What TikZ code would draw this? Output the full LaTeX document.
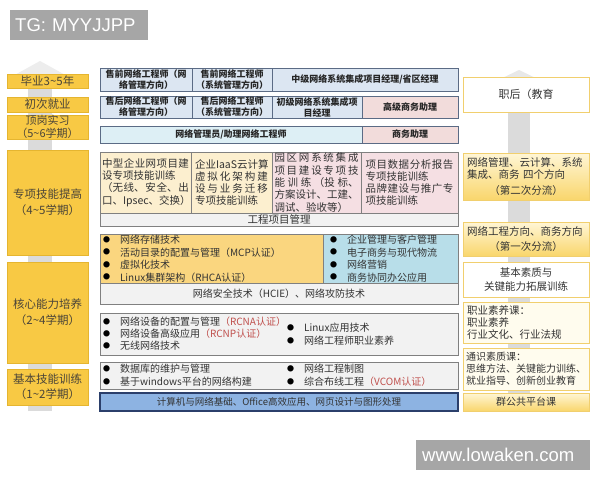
\documentclass[tikz,border=0pt]{standalone}
\usepackage{fontspec}
\setmainfont{Noto Sans CJK SC}
\newfontfamily\wmfont{Liberation Sans}
\usetikzlibrary{positioning,shadows,arrows.meta}
\XeTeXlinebreaklocale "zh"
\XeTeXlinebreakskip=0pt plus 1pt
\XeTeXlinebreakpenalty=10000
\setlength{\parindent}{0pt}

\definecolor{stageyellow}{HTML}{F8C944}
\definecolor{stageedge}{HTML}{E5B530}
\definecolor{stagetext}{HTML}{4A4438}
\definecolor{jobblue}{HTML}{DCE6F2}
\definecolor{jobcyan}{HTML}{DDEFF5}
\definecolor{jobpink}{HTML}{F2DCDB}
\definecolor{jobline}{HTML}{5B6B85}
\definecolor{drillcream}{HTML}{FCEFCF}
\definecolor{drillpink}{HTML}{F5DFE3}
\definecolor{coreyellow}{HTML}{FAD67F}
\definecolor{coreblue}{HTML}{B8DEE9}
\definecolor{paleground}{HTML}{F2F2F2}
\definecolor{baseblue}{HTML}{8DB3E2}
\definecolor{navyline}{HTML}{2B3F6B}
\definecolor{certred}{HTML}{C0504D}
\definecolor{trackedge}{HTML}{F1CF6E}
\definecolor{trackpale}{HTML}{FFF6D6}
\definecolor{trackgold}{HTML}{F9D66C}
\definecolor{trackcream}{HTML}{FFFCEE}
\definecolor{wmgray}{HTML}{A6A6A6}

\newcommand{\blt}{\makebox[17pt][l]{\raisebox{1.1pt}{\color{black}\fontsize{7}{7}\selectfont ●}}}

\tikzset{stage/.style={fill=stageyellow, draw=stageedge, line width=0.4pt, minimum width=81pt, inner sep=0pt, outer sep=0pt, align=center, anchor=north west, text=stagetext, font=\fontsize{11.5}{16}\selectfont, drop shadow={opacity=0.3, shadow xshift=1pt, shadow yshift=-1.2pt}},}
\tikzset{job/.style={draw=jobline, line width=0.5pt, fill=jobblue, inner sep=0pt, outer sep=0pt, align=center, text=black!85, font=\fontsize{9}{11}\selectfont\bfseries},}
\tikzset{drill/.style={draw=gray, line width=0.5pt, fill=drillcream, inner ysep=0pt, outer sep=0pt, minimum height=61pt, align=justify, text=black!80, font=\fontsize{10.5}{12.3}\selectfont},}
\tikzset{course/.style={draw=gray, line width=0.6pt, fill=paleground, inner xsep=3pt, inner ysep=0pt, outer sep=0pt, align=left, text=black!80, font=\fontsize{10}{12}\selectfont},}
\tikzset{coursetext/.style={inner sep=0pt, align=left, text=black!80, font=\fontsize{10}{13}\selectfont},}
\tikzset{track/.style={draw=trackedge, line width=0.8pt, minimum width=126pt, inner xsep=4pt, inner ysep=0pt, outer sep=0pt, anchor=north west, text=black!80, font=\fontsize{10.5}{12}\selectfont},}
\tikzset{watermark/.style={fill=wmgray, text=white, anchor=north west, minimum height=30pt, inner xsep=5pt, inner ysep=0pt, align=left, font=\wmfont\fontsize{18.5}{20}\selectfont},}
\tikzset{bigarrow/.style={draw=gray!28},}

\begin{document}
\begin{tikzpicture}[x=1pt,y=-1pt]
     \useasboundingbox (0,0) rectangle (600,480);
     \fill[white] (0,0) rectangle (600,480);

     \coordinate (lfoot) at (40,411);
     \coordinate (lhead) at (40,61);
     \coordinate (rfoot) at (519,411);
     \coordinate (rhead) at (519,70);
     \draw[bigarrow, line width=24pt, -{Triangle[width=50pt,length=14pt,color=gray!14]}] (lfoot) -- (lhead);
     \draw[bigarrow, line width=22pt, -{Triangle[width=70pt,length=17pt,color=gray!18]}] (rfoot) -- (rhead);

     \node[watermark, text width=128pt] (tg) at (10,10) {TG: MYYJJPP};

     \node[stage, minimum height=14pt] (grad) at (7,74) {毕业3\textasciitilde5年};
     \node[stage, minimum height=15pt] (firstjob) at (7,97) {初次就业};
     \node[stage, minimum height=24pt, font=\fontsize{11}{12.5}\selectfont] (intern) at (7,115) {顶岗实习\\（5\textasciitilde6学期）};
     \node[stage, minimum height=105pt] (special) at (7,150) {专项技能提高\\（4\textasciitilde5学期）};
     \node[stage, minimum height=101pt] (core) at (7,262) {核心能力培养\\（2\textasciitilde4学期）};
     \node[stage, minimum height=36pt, font=\fontsize{11.5}{15}\selectfont] (basic) at (7,369) {基本技能训练\\（1\textasciitilde2学期）};

     \node[job, minimum width=92pt, minimum height=23pt, anchor=north west] (pre1) at (100,68) {售前网络工程师（网\\络管理方向）};
     \node[job, minimum width=80pt, minimum height=23pt, right=0pt of pre1] (pre2) {售前网络工程师\\（系统管理方向）};
     \node[job, minimum width=186pt, minimum height=23pt, right=0pt of pre2] (midpm) {中级网络系统集成项目经理/省区经理};

     \node[job, minimum width=92pt, minimum height=22pt, anchor=north west] (post1) at (100,96) {售后网络工程师（网\\络管理方向）};
     \node[job, minimum width=80pt, minimum height=22pt, right=0pt of post1] (post2) {售后网络工程师\\（系统管理方向）};
     \node[job, minimum width=90pt, minimum height=22pt, right=0pt of post2] (jrpm) {初级网络系统集成项\\目经理};
     \node[job, minimum width=96pt, minimum height=22pt, fill=jobpink, right=0pt of jrpm] (srbiz) {高级商务助理};

     \node[job, minimum width=262pt, minimum height=17pt, fill=jobcyan, anchor=north west] (netadmin) at (100,126) {网络管理员/助理网络工程师};
     \node[job, minimum width=96pt, minimum height=17pt, fill=jobpink, right=0pt of netadmin] (biz) {商务助理};

     \node[drill, text width=87pt, inner xsep=2pt, anchor=north west] (lanpj) at (100,152) {中型企业网项目建\linebreak 设专项技能训练\par （无线、安全、出\linebreak 口、Ipsec、交换）};
     \node[drill, text width=73pt, inner xsep=4pt, right=0pt of lanpj] (cloudpj) {企业IaaS云计算\linebreak 虚拟化架构建\linebreak 设与业务迁移\linebreak 专项技能训练};
     \node[drill, text width=84pt, inner xsep=2.5pt, fill=drillpink, right=0pt of cloudpj] (campuspj) {园区网系统集成\linebreak 项目建设专项技\linebreak 能训练（投标、\linebreak 方案设计、工建、\linebreak 调试、验收等）};
     \node[drill, text width=88pt, inner xsep=4.5pt, fill=drillpink, right=0pt of campuspj] (bizpj) {项目数据分析报告\linebreak 专项技能训练\par 品牌建设与推广专\linebreak 项技能训练};
     \node[course, minimum width=358pt, minimum height=13pt, align=center, anchor=north west, font=\fontsize{10.5}{12}\selectfont] (pm) at (lanpj.south west) {工程项目管理};

     \node[course, fill=coreyellow, text width=217pt, minimum height=49pt, anchor=north west, font=\fontsize{10}{12.5}\selectfont] (coresys) at (100,234) {\blt 网络存储技术\\\blt 活动目录的配置与管理（MCP认证）\\\blt 虚拟化技术\\\blt Linux集群架构（RHCA认证）};
     \node[course, fill=coreblue, text width=121pt, inner xsep=7pt, minimum height=49pt, right=0pt of coresys, font=\fontsize{10}{12.5}\selectfont] (corebiz) {\blt 企业管理与客户管理\\\blt 电子商务与现代物流\\\blt 网络营销\\\blt 商务协同办公应用};
     \node[course, minimum width=358pt, minimum height=21pt, align=center, anchor=north west] (security) at (coresys.south west) {网络安全技术（HCIE）、网络攻防技术};

     \node[course, text width=352pt, minimum height=42pt, anchor=north west] (netdev) at (100,313) {\blt 网络设备的配置与管理\textcolor{certred}{（RCNA认证）}\\\blt 网络设备高级应用\textcolor{certred}{（RCNP认证）}\\\blt 无线网络技术};
     \node[coursetext, anchor=west] (netdevr) at ([xshift=187pt]netdev.west) {\blt Linux应用技术\\\blt 网络工程师职业素养};

     \node[course, text width=352pt, minimum height=27pt, anchor=north west, font=\fontsize{10}{13}\selectfont] (basicl) at (100,362) {\blt 数据库的维护与管理\\\blt 基于windows平台的网络构建};
     \node[coursetext, anchor=west] (basicr) at ([xshift=187pt]basicl.west) {\blt 网络工程制图\\\blt 综合布线工程\textcolor{certred}{（VCOM认证）}};

     \node[course, fill=baseblue, draw=navyline, line width=1.2pt, minimum width=358pt, minimum height=18pt, align=center, anchor=north west, font=\fontsize{9.5}{11}\selectfont] (found) at (100,393) {计算机与网络基础、Office高效应用、网页设计与图形处理};

     \node[track, fill=white, minimum height=35pt, align=center, font=\fontsize{11}{13}\selectfont] (after) at (463,77) {职后（教育};
     \node[track, top color=trackpale, bottom color=trackgold, minimum height=47pt, text width=118pt, align=left] (split2) at (463,153) {网络管理、云计算、系统\\集成、商务 四个方向\\[4pt]\makebox[118pt]{（第二次分流）}};
     \node[track, top color=trackpale, bottom color=trackgold, minimum height=34pt, text width=118pt, align=left] (split1) at (463,222) {网络工程方向、商务方向\\[3pt]\makebox[118pt]{（第一次分流）}};
     \node[track, fill=white, minimum height=35pt, align=center, font=\fontsize{10.5}{13.5}\selectfont] (quality) at (463,262) {基本素质与\\关键能力拓展训练};
     \node[track, fill=trackcream, minimum height=41pt, text width=118pt, align=left, font=\fontsize{10.5}{11.8}\selectfont] (prof) at (463,302) {职业素养课：\\职业素养\\行业文化、行业法规};
     \node[track, fill=trackcream, minimum height=42pt, text width=120pt, inner xsep=3pt, align=left, font=\fontsize{10}{12}\selectfont] (general) at (463,348) {通识素质课：\\思维方法、关键能力训练、\\就业指导、创新创业教育};
     \node[track, top color=trackpale, bottom color=trackgold, minimum height=18pt, align=center, font=\fontsize{10}{12}\selectfont] (common) at (463,393) {群公共平台课};

     \node[watermark, text width=162pt, inner xsep=6pt] (site) at (416,440) {www.lowaken.com};
\end{tikzpicture}
\end{document}
